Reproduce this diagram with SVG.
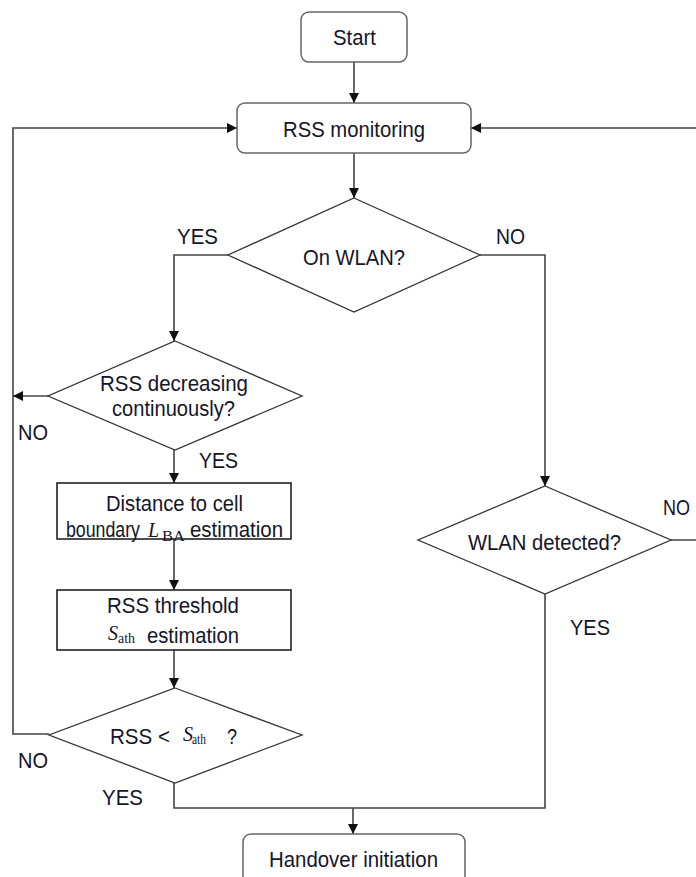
<svg xmlns="http://www.w3.org/2000/svg" width="696" height="877" viewBox="0 0 696 877">
  <defs>
    <marker id="arrow" viewBox="0 0 10 10" refX="10" refY="5" markerWidth="10" markerHeight="10" markerUnits="userSpaceOnUse" orient="auto">
      <path d="M0,0 L10,5 L0,10 z" fill="#111"/>
    </marker>
    <style>
      .lbl { font-family: "Liberation Sans", Arial, sans-serif; font-size: 22.5px; fill: #15152a; }
      .math { font-family: "Liberation Serif", "Times New Roman", serif; font-style: italic; font-size: 20px; fill: #15152a; }
      .sub { font-family: "Liberation Serif", "Times New Roman", serif; font-size: 14px; fill: #15152a; }
      .term { fill: #fff; stroke: #666; stroke-width: 1.5; }
      .proc { fill: #fff; stroke: #222; stroke-width: 1.6; }
      .dec { fill: #fff; stroke: #333; stroke-width: 1.3; }
      .wire { fill: none; stroke: #444; stroke-width: 1.6; }
      .arr { marker-end: url(#arrow); }
    </style>
  </defs>
  <rect width="696" height="877" fill="#fff"/>

  <!-- connectors -->
  <g id="connectors">
    <path class="wire arr" d="M354,62 V103"/>
    <path class="wire arr" d="M49,734 H13 V128 H237"/>
    <path class="wire arr" d="M671,540 H700 V128 H471"/>
    <path class="wire arr" d="M354,153 V198"/>
    <path class="wire arr" d="M228,255 H174 V341"/>
    <path class="wire arr" d="M480,255 H545 V486"/>
    <path class="wire arr" d="M48,396 H13"/>
    <path class="wire arr" d="M174,450 V483"/>
    <path class="wire arr" d="M174,539 V590"/>
    <path class="wire arr" d="M174,650 V688"/>
    <path class="wire" d="M174,783 V808 H545 V594"/>
    <path class="wire arr" d="M353,808 V834"/>
  </g>

  <!-- branch labels -->
  <g id="branch-labels">
    <text class="lbl" x="177" y="244" textLength="41" lengthAdjust="spacingAndGlyphs">YES</text>
    <text class="lbl" x="496" y="244" textLength="29" lengthAdjust="spacingAndGlyphs">NO</text>
    <text class="lbl" x="18" y="440" textLength="30" lengthAdjust="spacingAndGlyphs">NO</text>
    <text class="lbl" x="199" y="468" textLength="39" lengthAdjust="spacingAndGlyphs">YES</text>
    <text class="lbl" x="18" y="768" textLength="30" lengthAdjust="spacingAndGlyphs">NO</text>
    <text class="lbl" x="102" y="805" textLength="41" lengthAdjust="spacingAndGlyphs">YES</text>
    <text class="lbl" x="663" y="515" textLength="27" lengthAdjust="spacingAndGlyphs">NO</text>
    <text class="lbl" x="570" y="635" textLength="40" lengthAdjust="spacingAndGlyphs">YES</text>
  </g>

  <g id="start">
    <rect class="term" x="301" y="12" width="106" height="50" rx="8"/>
    <text class="lbl" x="333" y="45" textLength="43" lengthAdjust="spacingAndGlyphs">Start</text>
  </g>

  <g id="rss-monitoring">
    <rect class="term" x="237" y="103" width="234" height="50" rx="8"/>
    <text class="lbl" x="283" y="137" textLength="142" lengthAdjust="spacingAndGlyphs">RSS monitoring</text>
  </g>

  <g id="on-wlan">
    <polygon class="dec" points="354,198 480,255 354,312 228,255"/>
    <text class="lbl" x="303" y="265" textLength="102" lengthAdjust="spacingAndGlyphs">On WLAN?</text>
  </g>

  <g id="rss-decreasing">
    <polygon class="dec" points="175,341 302,396 175,450 48,396"/>
    <text class="lbl" x="100" y="391" textLength="148" lengthAdjust="spacingAndGlyphs">RSS decreasing</text>
    <text class="lbl" x="112" y="416" textLength="123" lengthAdjust="spacingAndGlyphs">continuously?</text>
  </g>

  <g id="distance-estimation">
    <rect class="proc" x="57" y="483" width="234" height="56"/>
    <text class="lbl" x="106" y="511" textLength="137" lengthAdjust="spacingAndGlyphs">Distance to cell</text>
    <text class="lbl" x="66" y="537" textLength="74" lengthAdjust="spacingAndGlyphs">boundary</text>
    <text class="math" x="148" y="537">L</text>
    <text class="sub" x="162" y="541" textLength="23" lengthAdjust="spacingAndGlyphs">BA</text>
    <text class="lbl" x="190" y="537" textLength="93" lengthAdjust="spacingAndGlyphs">estimation</text>
  </g>

  <g id="threshold-estimation">
    <rect class="proc" x="57" y="590" width="234" height="60"/>
    <text class="lbl" x="107" y="613" textLength="132" lengthAdjust="spacingAndGlyphs">RSS threshold</text>
    <text class="math" x="108" y="640">S</text>
    <text class="sub" x="118" y="643" textLength="17" lengthAdjust="spacingAndGlyphs">ath</text>
    <text class="lbl" x="147" y="643" textLength="92" lengthAdjust="spacingAndGlyphs">estimation</text>
  </g>

  <g id="rss-below-threshold">
    <polygon class="dec" points="175,688 302,735 175,783 49,735"/>
    <text class="lbl" x="110" y="744" textLength="60" lengthAdjust="spacingAndGlyphs">RSS &lt;</text>
    <text class="math" x="183" y="741">S</text>
    <text class="sub" x="192" y="744" textLength="14" lengthAdjust="spacingAndGlyphs">ath</text>
    <text class="lbl" x="227" y="744" textLength="10" lengthAdjust="spacingAndGlyphs">?</text>
  </g>

  <g id="wlan-detected">
    <polygon class="dec" points="545,486 671,540 545,594 418,540"/>
    <text class="lbl" x="468" y="550" textLength="153" lengthAdjust="spacingAndGlyphs">WLAN detected?</text>
  </g>

  <g id="handover">
    <rect class="term" x="243" y="834" width="222" height="70" rx="8"/>
    <text class="lbl" x="269" y="867" textLength="169" lengthAdjust="spacingAndGlyphs">Handover initiation</text>
  </g>
</svg>
